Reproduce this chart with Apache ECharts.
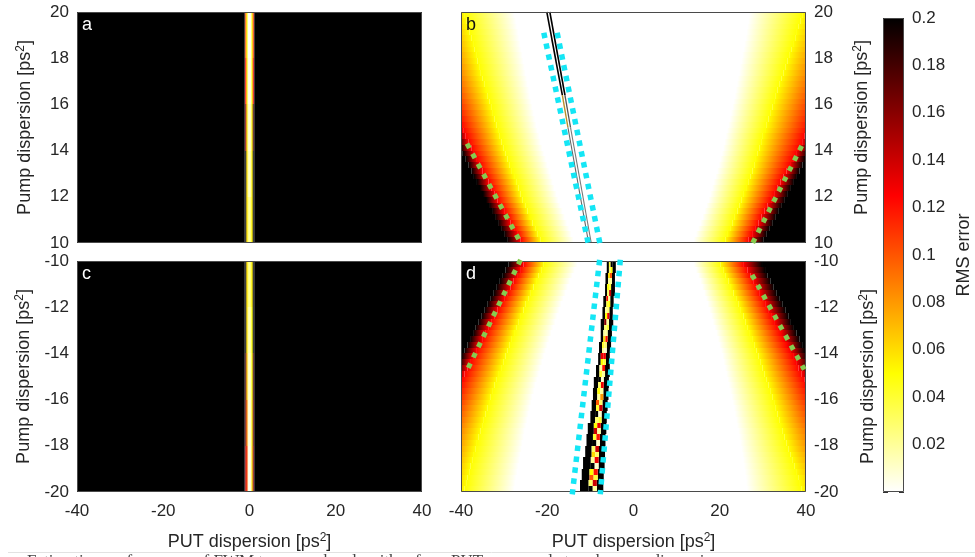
<!DOCTYPE html>
<html>
<head>
<meta charset="utf-8">
<style>html,body{margin:0;padding:0;background:#fff}#c{width:975px;height:557px}#c canvas{filter:blur(0.5px)}</style>
<script src="https://cdn.jsdelivr.net/npm/echarts@6/dist/echarts.min.js"></script>
</head>
<body>
<div id="c"></div>
<script>
// ---- colour scale
const colorLevels = [0, 0.05, 0.125, 0.2];
const colorHex = [[255,255,255],[255,255,0],[255,0,0],[0,0,0]];
const colorbarTicksMax = 0.2;

// ---- axes
const putMin = -40, putMax = 40;
const pumpTop = [10, 20], pumpBottom = [-20, -10];

// ---- panels a and c: narrow line around PUT = 0 (RMS error per column)
const narrowCols = [-1.2, -0.9, -0.6, -0.3, 0, 0.3, 0.6, 0.9, 1.2];
const aRowEdges = [10, 12, 14, 16, 18, 20];
const aRows = [
  [0.2, 0.2, 0.06, 0.03, 0.025, 0.03, 0.055, 0.2, 0.2],
  [0.2, 0.2, 0.06, 0.02, 0.015, 0.02, 0.055, 0.2, 0.2],
  [0.2, 0.16, 0.06, 0.014, 0.01, 0.014, 0.055, 0.18, 0.2],
  [0.2, 0.12, 0.055, 0.007, 0.004, 0.007, 0.05, 0.13, 0.2],
  [0.2, 0.1, 0.05, 0.003, 0.001, 0.003, 0.05, 0.11, 0.2]
];
const cRowEdges = [-20, -18, -16, -14, -12, -10];
const cRows = [
  [0.2, 0.15, 0.11, 0.008, 0.003, 0.008, 0.06, 0.16, 0.2],
  [0.2, 0.17, 0.09, 0.012, 0.008, 0.012, 0.055, 0.17, 0.2],
  [0.2, 0.18, 0.07, 0.016, 0.012, 0.016, 0.05, 0.18, 0.2],
  [0.2, 0.2, 0.06, 0.022, 0.018, 0.022, 0.05, 0.2, 0.2],
  [0.2, 0.2, 0.06, 0.032, 0.028, 0.032, 0.055, 0.2, 0.2]
];

// ---- panels b and d: PUT dispersion at which the error crosses each level, one value per pump row
const rowStep = 0.25;
const bFirstRow = 10, dFirstRow = -10.25;
const bLeftBlack = [-29.3,-30,-30.7,-31.4,-32.1,-32.8,-33.5,-34.2,-34.9,-35.6,-36.3,-37,-37.6,-38.3,-38.9,-39.6,-40.2,-40.8,-41.4,-42,-42.6,-43.2,-43.8,-44.4,-45,-45.5,-46,-46.5,-47,-47.5,-48,-48.5,-49,-49.5,-50,-50.5,-51,-51.5,-52,-52.5];
const bLeftRed = [-26.2,-27,-27.7,-28.5,-29.2,-30,-30.7,-31.5,-32.2,-32.9,-33.6,-34.3,-35,-35.7,-36.3,-37,-37.6,-38.3,-38.9,-39.5,-40.1,-40.7,-41.3,-41.9,-42.5,-43.1,-43.7,-44.3,-44.8,-45.4,-45.9,-46.5,-47,-47.6,-48.1,-48.7,-49.2,-49.8,-50.3,-50.9];
const bLeftYellow = [-21.6,-22.2,-22.8,-23.4,-24,-24.6,-25.1,-25.7,-26.2,-26.7,-27.2,-27.7,-28.2,-28.7,-29.2,-29.7,-30.1,-30.6,-31,-31.4,-31.8,-32.2,-32.6,-33,-33.4,-33.8,-34.2,-34.6,-35,-35.4,-35.8,-36.2,-36.5,-36.9,-37.2,-37.6,-38,-38.4,-38.7,-39.1];
const bLeftWhite = [-13.9,-14.4,-14.9,-15.4,-15.9,-16.4,-16.9,-17.4,-17.8,-18.3,-18.7,-19.1,-19.5,-19.9,-20.3,-20.7,-21.1,-21.5,-21.8,-22.2,-22.5,-22.8,-23.1,-23.4,-23.7,-24,-24.2,-24.5,-24.7,-25,-25.2,-25.5,-25.7,-26,-26.2,-26.5,-26.7,-27,-27.2,-27.5];
const bRightWhite = [14,14.5,15,15.5,16,16.5,16.9,17.4,17.8,18.2,18.6,19,19.4,19.8,20.1,20.5,20.8,21.1,21.4,21.7,22,22.3,22.6,22.9,23.2,23.5,23.7,24,24.2,24.5,24.7,25,25.2,25.5,25.7,26,26.2,26.4,26.6,26.8];
const bRightYellow = [21.3,21.9,22.4,23,23.5,24.1,24.6,25.1,25.6,26.1,26.6,27.1,27.6,28,28.4,28.8,29.2,29.6,30,30.5,30.9,31.3,31.7,32.2,32.6,33,33.4,33.9,34.3,34.8,35.2,35.7,36.1,36.6,37,37.5,37.9,38.3,38.7,39.1];
const bRightRed = [26.7,27.5,28.2,29,29.7,30.4,31.1,31.9,32.6,33.4,34.1,34.8,35.5,36.3,37,37.7,38.4,39.1,39.7,40.4,41,41.6,42.2,42.8,43.4,44,44.6,45.2,45.7,46.3,46.8,47.4,47.9,48.5,49,49.6,50.1,50.7,51.2,51.8];
const bRightBlack = [30.2,30.9,31.6,32.3,33,33.7,34.4,35.1,35.8,36.5,37.2,37.9,38.5,39.2,39.8,40.5,41.1,41.8,42.4,43.1,43.7,44.3,44.9,45.5,46.1,46.7,47.2,47.8,48.3,48.9,49.4,50,50.5,51.1,51.6,52.2,52.7,53.3,53.8,54.4];

const dLeftBlack = [-29,-29.7,-30.3,-31,-31.7,-32.4,-33.1,-33.8,-34.5,-35.2,-35.9,-36.6,-37.2,-37.9,-38.5,-39.2,-39.9,-40.5,-41.1,-41.7,-42.3,-42.9,-43.5,-44.1,-44.7,-45.3,-45.8,-46.4,-46.9,-47.5,-48,-48.6,-49.1,-49.7,-50.2,-50.8,-51.3,-51.9,-52.4,-53];
const dLeftRed = [-25.5,-26.3,-27,-27.8,-28.5,-29.3,-30,-30.8,-31.5,-32.3,-33,-33.7,-34.4,-35.1,-35.8,-36.5,-37.2,-37.9,-38.5,-39.2,-39.8,-40.4,-41,-41.6,-42.2,-42.8,-43.4,-44,-44.6,-45.2,-45.7,-46.3,-46.8,-47.4,-47.9,-48.5,-49,-49.6,-50.1,-50.7];
const dLeftYellow = [-20.8,-21.4,-22,-22.6,-23.2,-23.8,-24.4,-25,-25.5,-26.1,-26.6,-27.2,-27.7,-28.2,-28.7,-29.2,-29.7,-30.2,-30.7,-31.2,-31.7,-32.2,-32.6,-33.1,-33.5,-33.9,-34.3,-34.7,-35.1,-35.5,-35.9,-36.3,-36.7,-37,-37.4,-37.8,-38.1,-38.5,-38.8,-39.2];
const dLeftWhite = [-13,-13.6,-14.1,-14.7,-15.2,-15.7,-16.2,-16.7,-17.2,-17.7,-18.1,-18.6,-19,-19.5,-19.9,-20.3,-20.7,-21.1,-21.5,-21.9,-22.3,-22.7,-23,-23.4,-23.7,-24,-24.3,-24.6,-24.9,-25.2,-25.4,-25.7,-25.9,-26.2,-26.4,-26.7,-26.9,-27.2,-27.4,-27.6];
const dRightWhite = [14,14.5,15,15.5,15.9,16.4,16.8,17.2,17.6,18,18.4,18.8,19.2,19.6,19.9,20.3,20.6,20.9,21.2,21.5,21.8,22.1,22.4,22.7,23,23.3,23.5,23.8,24,24.3,24.5,24.8,25,25.2,25.4,25.6,25.8,26,26.1,26.3];
const dRightYellow = [20.2,20.8,21.4,22,22.6,23.2,23.8,24.4,24.9,25.5,26,26.5,27,27.5,28,28.5,29,29.5,29.9,30.4,30.8,31.3,31.7,32.2,32.6,33,33.4,33.8,34.2,34.6,35,35.5,35.9,36.4,36.8,37.3,37.7,38.2,38.6,39];
const dRightRed = [25.6,26.4,27.1,27.9,28.6,29.3,30,30.7,31.4,32.1,32.8,33.5,34.2,34.9,35.6,36.3,37,37.7,38.3,39,39.6,40.2,40.8,41.4,42,42.6,43.2,43.8,44.4,45,45.5,46.1,46.6,47.2,47.7,48.3,48.8,49.4,49.9,50.5];
const dRightBlack = [29.8,30.5,31.1,31.8,32.5,33.2,33.8,34.5,35.2,35.9,36.5,37.2,37.8,38.5,39.1,39.8,40.4,41,41.6,42.2,42.8,43.4,44,44.6,45.2,45.8,46.3,46.9,47.4,48,48.5,49.1,49.6,50.2,50.7,51.3,51.8,52.4,52.9,53.5];

// ---- panel d: central ragged band (outer black edges, pale core)
const dBandY = [-10,-10.5,-11,-11.5,-12,-12.5,-13,-13.5,-14,-14.5,-15,-15.5,-16,-16.5,-17,-17.5,-18,-18.5,-19,-19.5];
const dOuterLeft = [-6.2,-6.5,-6.6,-7,-7.2,-7.6,-7.6,-8,-8.2,-8.7,-9.2,-9.4,-9.7,-10,-10.6,-10.9,-11.2,-11.7,-12,-12.4];
const dInnerLeft = [-5.7,-5.9,-6.1,-6.3,-6.6,-6.8,-7,-7.3,-7.6,-7.9,-8.2,-8.4,-8.7,-8.9,-9.2,-9.4,-9.7,-9.9,-10.2,-10.4];
const dInnerRight = [-4.9,-5,-5.2,-5.4,-5.6,-5.7,-6,-6.2,-6.4,-6.6,-6.9,-7,-7.2,-7.4,-7.6,-7.8,-8,-8.1,-8.3,-8.5];
const dOuterRight = [-4.1,-4.3,-4.3,-4.6,-4.8,-4.7,-5,-5.2,-5.5,-5.5,-5.7,-5.8,-6,-6.2,-6.3,-6.5,-6.6,-6.7,-6.9,-7];
const dCoreLeft = [0.04,0.03,0.06,0.02,0.05,0.03,0.12,0.04,0.02,0.05,0.16,0.03,0.02,0.06,0.04,0.02,0.13,0.05,0.02,0.04,0.2,0.03,0.05,0.02,0.1,0.04,0.2,0.03,0.05,0.14,0.04,0.2,0.03,0.06,0.02,0.2,0.05,0.1,0.03,0.2];
const dCoreRight = [0.2,0.05,0.1,0.02,0.04,0.14,0.02,0.05,0.03,0.13,0.02,0.04,0.02,0.12,0.03,0.01,0.13,0.04,0.12,0.02,0.01,0.13,0.02,0.08,0.03,0.14,0.01,0.04,0.13,0.02,0.12,0.01,0.14,0.03,0.13,0.01,0.12,0.04,0.14,0.02];

// ---- panel b: thin double line
const bLineLeftDark = [[-20.1,20],[-16.5,16.4]];
const bLineRightDark = [[-19.4,20],[-15.9,16.4]];
const bLineLeftPale = [[-16.5,16.4],[-15.2,15]];
const bLineRightPale = [[-15.9,16.4],[-14.6,15]];
const bLineLeftGrey = [[-15.2,15],[-10.4,10]];
const bLineRightGrey = [[-14.6,15],[-9.8,10]];

// ---- dotted guide lines
const bCyanLeft = [[-20.8,19.1],[-10.4,9.9]];
const bCyanRight = [[-17.7,19.1],[-7.7,9.9]];
const bGreenLeft = [[-38.6,14.3],[-26,9.95]];
const bGreenRight = [[39,14.2],[27.5,9.95]];
const dCyanLeft = [[-7.85,-9.95],[-14.2,-20.1]];
const dCyanRight = [[-3.06,-9.95],[-7.7,-20.1]];
const dGreenLeft = [[-26.2,-9.95],[-38.5,-14.7]];
const dGreenRight = [[27.5,-10.6],[39.6,-14.7]];

const tickFont = 17, titleFont = 18, fontFamily = '"Liberation Sans", Arial, sans-serif', ink = '#262626';

function heat(v) {
  v = Math.max(0, Math.min(colorbarTicksMax, v));
  let i = 0;
  while (i < colorLevels.length - 2 && v > colorLevels[i + 1]) i++;
  const t = (v - colorLevels[i]) / (colorLevels[i + 1] - colorLevels[i]);
  const a = colorHex[i], b = colorHex[i + 1];
  return 'rgb(' + a.map((c, k) => Math.round(c + (b[k] - c) * t)).join(',') + ')';
}

// cells: [x0, x1, y0, y1, v0, v1]; colour runs from v0 to v1 across the cell
function renderCell(dir) {
  return function (params, api) {
    const p0 = api.coord([api.value(0), api.value(2)]), p1 = api.coord([api.value(1), api.value(3)]);
    const cs = params.coordSys;
    const top = Math.round(Math.min(p0[1], p1[1])), bottom = Math.round(Math.max(p0[1], p1[1]));
    const horizontal = dir !== 'v';
    const left = horizontal ? Math.min(p0[0], p1[0]) : Math.round(Math.min(p0[0], p1[0]));
    const right = horizontal ? Math.max(p0[0], p1[0]) : Math.round(Math.max(p0[0], p1[0]));
    const shape = echarts.graphic.clipRectByRect({
      x: left, y: top, width: right - left, height: bottom - top
    }, { x: cs.x, y: cs.y, width: cs.width, height: cs.height });
    if (!shape) return null;
    const stops = [{ offset: 0, color: heat(api.value(4)) }, { offset: 1, color: heat(api.value(5)) }];
    const fill = horizontal
      ? new echarts.graphic.LinearGradient(p0[0], 0, p1[0], 0, stops, true)
      : new echarts.graphic.LinearGradient(0, p0[1], 0, p1[1], stops, true);
    return { type: 'rect', shape: { x: shape.x, y: shape.y, width: shape.width, height: shape.height }, style: { fill: fill } };
  };
}

function narrowCells(edges, rows) {
  const out = [];
  rows.forEach((row, r) => {
    const y0 = edges[r], y1 = edges[r + 1];
    out.push([putMin, narrowCols[0], y0, y1, row[0], row[0]]);
    for (let i = 0; i < narrowCols.length - 1; i++)
      out.push([narrowCols[i], narrowCols[i + 1], y0, y1, row[i], row[i + 1]]);
    out.push([narrowCols[narrowCols.length - 1], putMax, y0, y1, row[row.length - 1], row[row.length - 1]]);
  });
  return out;
}

function wedgeCells(firstY, sign, lb, lr, ly, lw, rw, ry, rr, rb) {
  const out = [];
  lb.forEach((_, i) => {
    const y0 = firstY + sign * i * rowStep, y1 = y0 + rowStep;
    const add = (a, b, va, vb) => out.push([a, b, y0, y1, va, vb]);
    add(putMin - 40, lb[i], 0.2, 0.2);
    add(lb[i], lr[i], 0.2, 0.125);
    add(lr[i], ly[i], 0.125, 0.05);
    add(ly[i], lw[i], 0.05, 0);
    add(lw[i], rw[i], 0, 0);
    add(rw[i], ry[i], 0, 0.05);
    add(ry[i], rr[i], 0.05, 0.125);
    add(rr[i], rb[i], 0.125, 0.2);
    add(rb[i], putMax + 40, 0.2, 0.2);
  });
  return out;
}

function dBandCells() {
  const out = [];
  dBandY.forEach((y, i) => {
    out.push([dOuterLeft[i], dInnerLeft[i], y - 0.5, y, 0.2, 0.2]);
    out.push([dInnerRight[i], dOuterRight[i], y - 0.5, y, 0.2, 0.2]);
  });
  dCoreLeft.forEach((v, k) => {
    const y1 = -10 - k * rowStep, y0 = y1 - rowStep;
    const i = Math.min(dBandY.length - 1, Math.floor(k / 2));
    const mid = (dInnerLeft[i] + dInnerRight[i]) / 2;
    out.push([dInnerLeft[i], mid, y0, y1, v, v]);
    out.push([mid, dInnerRight[i], y0, y1, dCoreRight[k], dCoreRight[k]]);
  });
  return out;
}

const colorbarCells = colorLevels.slice(0, -1).map((lv, i) => [0, 2, lv, colorLevels[i + 1], lv, colorLevels[i + 1]]);

// ---- layout
const panels = [
  { letter: 'a', left: 77, top: 12, yr: pumpTop, side: 'left', xLabel: false, gap: 42, ink: '#fff' },
  { letter: 'b', left: 461, top: 12, yr: pumpTop, side: 'right', xLabel: false, gap: 46, ink: '#111' },
  { letter: 'c', left: 77, top: 261, yr: pumpBottom, side: 'left', xLabel: true, gap: 43, ink: '#fff' },
  { letter: 'd', left: 461, top: 261, yr: pumpBottom, side: 'right', xLabel: true, gap: 52, ink: '#fff' }
];
const pw = 345, ph = 231;

const titleStyle = { fontSize: titleFont, fontFamily, color: ink,
  rich: {
    t: { fontSize: titleFont, fontFamily, color: ink },
    s: { fontSize: 12, fontFamily, color: ink, verticalAlign: 'top', lineHeight: 20 }
  } };

const grids = panels.map(p => ({ left: p.left, top: p.top, width: pw, height: ph }));
grids.push({ left: 883, top: 18, width: 21, height: 474 });

const xAxes = panels.map((p, i) => ({
  type: 'value', gridIndex: i, min: putMin, max: putMax, interval: 20,
  axisLine: { show: false }, axisTick: { show: false }, splitLine: { show: false },
  axisLabel: { show: p.xLabel, fontSize: tickFont, fontFamily, color: ink, margin: 11, formatter: v => String(v) },
  name: p.xLabel ? '{t|PUT dispersion [ps}{s|2}{t|]}' : '', nameLocation: 'middle', nameGap: 40,
  nameTextStyle: titleStyle
}));
xAxes.push({ type: 'value', gridIndex: 4, min: 0, max: 2, interval: 1,
  axisLine: { show: false }, axisLabel: { show: false }, splitLine: { show: false },
  axisTick: { show: true, inside: true, length: 5, customValues: [1], lineStyle: { color: '#333' } } });

const yAxes = panels.map((p, i) => ({
  type: 'value', gridIndex: i, min: p.yr[0], max: p.yr[1], interval: 2, position: p.side,
  axisLine: { show: false }, axisTick: { show: false }, splitLine: { show: false },
  axisLabel: { fontSize: tickFont, fontFamily, color: ink, margin: 8 },
  name: '{t|Pump dispersion [ps}{s|2}{t|]}', nameLocation: 'middle', nameGap: p.gap,
  nameRotate: 90, nameTextStyle: titleStyle
}));
const cbTick = { show: true, inside: true, length: 5, lineStyle: { color: '#333' } };
yAxes.push({ type: 'value', gridIndex: 4, min: 0, max: colorbarTicksMax, interval: 0.02, position: 'left',
  axisLine: { show: false }, axisTick: cbTick, axisLabel: { show: false }, splitLine: { show: false } });
yAxes.push({ type: 'value', gridIndex: 4, min: 0, max: colorbarTicksMax, interval: 0.02, position: 'right',
  axisLine: { show: false }, axisTick: cbTick, splitLine: { show: false },
  axisLabel: { fontSize: tickFont, fontFamily, color: ink, margin: 8, formatter: v => v === 0 ? '' : String(v) },
  name: 'RMS error', nameLocation: 'middle', nameGap: 51, nameRotate: 90,
  nameTextStyle: { fontSize: titleFont, fontFamily, color: ink } });

function cellSeries(idx, data, dir, yIdx, z) {
  return { type: 'custom', xAxisIndex: idx, yAxisIndex: yIdx === undefined ? idx : yIdx, z: z || 2,
    renderItem: renderCell(dir), data: data, silent: true, animation: false,
    encode: { x: [0, 1], y: [2, 3] } };
}
function lineSeries(idx, data, color, width, dash, z) {
  return { type: 'line', xAxisIndex: idx, yAxisIndex: idx, data: data, showSymbol: false, symbol: 'none',
    silent: true, animation: false, clip: false, z: z || 4,
    lineStyle: { color: color, width: width, type: dash || 'solid', cap: 'butt' } };
}
const cyan = '#14e6f5', green = '#86cb50';
const dotCyan = [5.5, 5.5], dotGreen = [5, 6.5];

const series = [
  cellSeries(0, narrowCells(aRowEdges, aRows), 'h'),
  cellSeries(1, wedgeCells(bFirstRow, 1, bLeftBlack, bLeftRed, bLeftYellow, bLeftWhite, bRightWhite, bRightYellow, bRightRed, bRightBlack), 'h'),
  cellSeries(2, narrowCells(cRowEdges, cRows), 'h'),
  cellSeries(3, wedgeCells(dFirstRow, -1, dLeftBlack, dLeftRed, dLeftYellow, dLeftWhite, dRightWhite, dRightYellow, dRightRed, dRightBlack), 'h'),
  cellSeries(3, dBandCells(), 'h', 3, 3),
  cellSeries(4, colorbarCells, 'v', 4),
  lineSeries(1, bLineLeftDark, '#000', 1.6), lineSeries(1, bLineRightDark, '#000', 1.6),
  lineSeries(1, bLineLeftPale, '#b8902a', 1.4), lineSeries(1, bLineRightPale, '#555', 1.3),
  lineSeries(1, bLineLeftGrey, '#666', 1.1), lineSeries(1, bLineRightGrey, '#777', 1.1),
  lineSeries(1, bCyanLeft, cyan, 5.5, dotCyan, 6), lineSeries(1, bCyanRight, cyan, 5.5, dotCyan, 6),
  lineSeries(1, bGreenLeft, green, 5, dotGreen, 6), lineSeries(1, bGreenRight, green, 5, dotGreen, 6),
  lineSeries(3, dCyanLeft, cyan, 5.5, dotCyan, 6), lineSeries(3, dCyanRight, cyan, 5.5, dotCyan, 6),
  lineSeries(3, dGreenLeft, green, 5, dotGreen, 6), lineSeries(3, dGreenRight, green, 5, dotGreen, 6)
];

const frame = (x, y, w, h) => ({ type: 'rect', z: 5, silent: true,
  shape: { x: x + 0.5, y: y + 0.5, width: w - 1, height: h - 1 },
  style: { fill: 'none', stroke: '#4a4a4a', lineWidth: 1 } });
const graphics = panels.map(p => frame(p.left, p.top, pw, ph));
graphics.push(frame(883, 18, 21, 474));
panels.forEach(p => graphics.push({ type: 'text', z: 20, x: p.left + 5, y: p.top + 4, silent: true,
  style: { text: p.letter, fontSize: 18, fontFamily, fill: p.ink, verticalAlign: 'top' } }));
graphics.push({ type: 'line', z: 1, shape: { x1: 8, y1: 552.5, x2: 975, y2: 552.5 }, style: { stroke: '#e2e2e2', lineWidth: 1 } });
graphics.push({ type: 'text', z: 1, x: 27, y: 553, silent: true,
  style: { text: 'Estimation performance of FWM tomography algorithm for a PUT measured at each pump dispersion',
    fontSize: 17, fontFamily: '"Liberation Serif", serif', fill: '#444', verticalAlign: 'top' } });

const chart = echarts.init(document.getElementById('c'), null, { renderer: 'canvas' });
chart.setOption({
  animation: false, backgroundColor: '#fff',
  grid: grids, xAxis: xAxes, yAxis: yAxes, series: series, graphic: graphics
});
</script>
</body>
</html>
